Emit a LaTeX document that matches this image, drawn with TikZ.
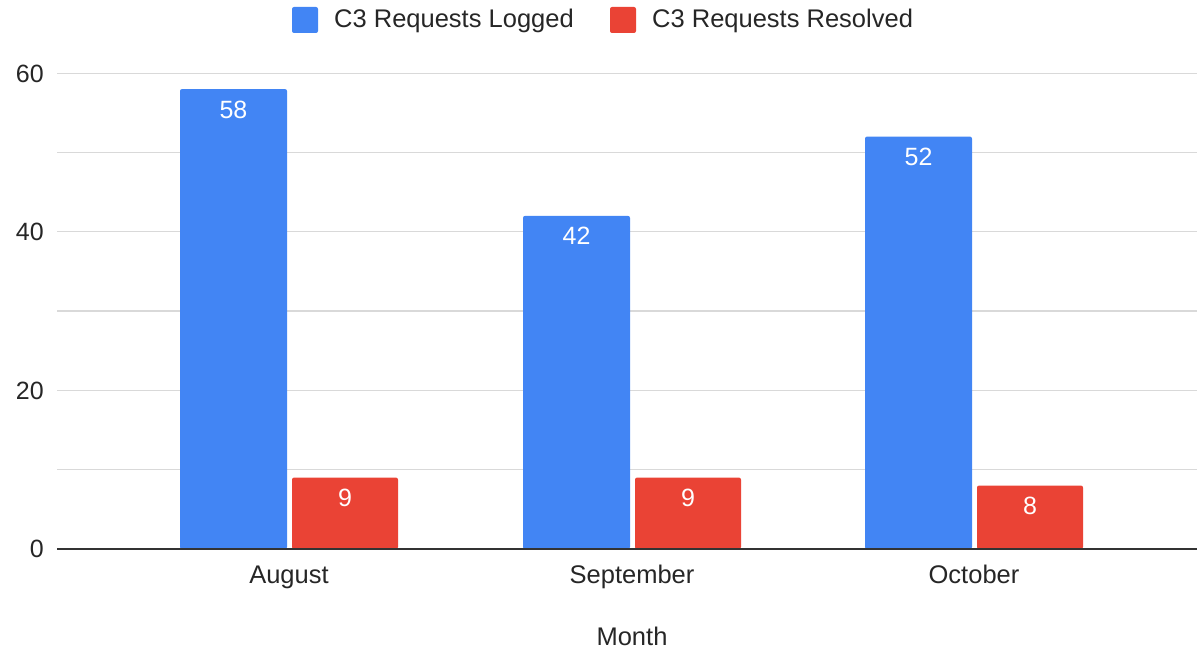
\documentclass[tikz,border=0pt]{standalone}
\usepackage{fontspec}
\setmainfont{Liberation Sans}
\usetikzlibrary{positioning}
\definecolor{logblue}{HTML}{4285F4}
\definecolor{resred}{HTML}{EA4335}
\definecolor{gridgray}{HTML}{D9D9D9}
\definecolor{axisgray}{HTML}{333333}

\begin{document}
\begin{tikzpicture}[x=1pt,y=1pt]
  \tikzset{
    grid line/.style={draw=gridgray, line width=1.3pt},
    axis line/.style={draw=axisgray, line width=2pt},
    logged/.style={fill=logblue, rounded corners=2pt},
    resolved/.style={fill=resred, rounded corners=2pt},
    val/.style={anchor=base, inner sep=0pt, text=white, font=\fontsize{25}{28}\selectfont},
    tick/.style={anchor=base east, inner sep=0pt, text=black!85, font=\fontsize{25}{28}\selectfont},
    cat/.style={anchor=base, inner sep=0pt, text=black!85, font=\fontsize{25.5}{28}\selectfont},
    key/.style={draw=none, rounded corners=2pt, minimum width=26pt, minimum height=26pt, inner sep=0pt},
  }
  \useasboundingbox (0,0) rectangle (1197,651);

  % grid and y ticks
  \foreach \v in {10,20,...,60}
    \draw [grid line] (57,102+7.93*\v) -- (1197,102+7.93*\v);
  \foreach \v in {0,20,40,60}
    \node [tick] (tick\v) at (44,102+7.93*\v-9) {\v};

  % bars
  \foreach \x/\l/\r/\m in {180/58/9/August, 523/42/9/September, 865/52/8/October}{
    \fill [logged] (\x,102) rectangle (\x+107,102+7.93*\l);
    \fill [resolved] (\x+112,102) rectangle (\x+218,102+7.93*\r);
    \node [val] (\m-l) at (\x+53.5,102+7.93*\l-29) {\l};
    \node [val] (\m-r) at (\x+165,102+7.93*\r-29) {\r};
    \node [cat] (\m) at (\x+109,67) {\m};
  }
  \draw [axis line] (57,102) -- (1197,102);

  % legend
  \node [key, fill=logblue] (keylog) at (305,631) {};
  \node [cat, anchor=base west] (txtlog) at (334,623) {C3 Requests Logged};
  \node [key, fill=resred] (keyres) at (623,631) {};
  \node [cat, anchor=base west] (txtres) at (652,623) {C3 Requests Resolved};

  \node [cat] (month) at (632,6) {Month};
\end{tikzpicture}
\end{document}
